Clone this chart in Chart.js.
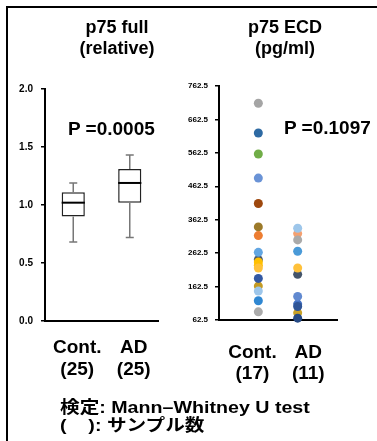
<!DOCTYPE html>
<html>
<head>
<meta charset="utf-8">
<script src="https://cdn.jsdelivr.net/npm/chart.js@4.4.1/dist/chart.umd.min.js"></script>
<style>
  html, body { margin: 0; padding: 0; background: #fff; }
  body { width: 377px; height: 441px; position: relative; overflow: hidden;
         font-family: "Liberation Sans", Arial, "Noto Sans CJK JP", sans-serif; font-weight: bold; color: #000; }
  #frame { position: absolute; left: 6px; top: 6px; width: 371px; height: 435px;
           border-top: 2px solid #000; border-left: 2px solid #000; box-sizing: border-box; }
  canvas { position: absolute; left: 0; top: 0; }
  .txt { position: absolute; white-space: nowrap; }
  .title { font-size: 18px; line-height: 21px; text-align: center; width: 160px; }
  .pval { font-size: 19px; line-height: 19px; }
  #note { left: 60px; top: 398px; font-size: 16.5px; line-height: 18px;
          transform: scaleX(1.19); transform-origin: 0 0;
          font-family: "Liberation Sans", Arial, "Noto Sans CJK JP", sans-serif; }
</style>
</head>
<body>
<div id="frame"></div>
<canvas id="boxChart" width="377" height="441"></canvas>
<canvas id="dotChart" width="377" height="441"></canvas>
<div class="txt title" style="left:37px; top:17px;">p75 full<br>(relative)</div>
<div class="txt title" style="left:205px; top:17px;">p75 ECD<br>(pg/ml)</div>
<div class="txt pval" style="left:68px; top:119px;">P =0.0005</div>
<div class="txt pval" style="left:284px; top:118px;">P =0.1097</div>
<div class="txt" id="note">検定: Mann–Whitney U test<br>(&nbsp;&nbsp;&nbsp;&nbsp;): サンプル数</div>
<script>
// p75 full (relative) - box plot
var fullGroups = ['Cont.', 'AD'];
var fullCounts = [25, 25];
var fullMin = [0.68, 0.72];
var fullQ1 = [0.90, 1.02];
var fullMedian = [1.02, 1.19];
var fullQ3 = [1.11, 1.31];
var fullMax = [1.19, 1.43];
var fullTicks = [0, 0.5, 1.0, 1.5, 2.0];

// p75 ECD (pg/ml) - dot plot
var ecdGroups = ['Cont.', 'AD'];
var ecdCounts = [17, 11];
var ecdCont = [243, 236, 226, 164, 711, 622, 559, 487, 411, 341, 315, 265, 218, 187, 149, 120, 87];
var ecdAD = [321, 199, 84, 110, 337, 302, 268, 218, 133, 103, 68];
var ecdTicks = [62.5, 162.5, 262.5, 362.5, 462.5, 562.5, 662.5, 762.5];

// dot colours (same order as the values above)
var contColors = ['#44546a', '#ffc000', '#ffc000', '#c49a22', '#a5a5a5', '#2e6aa3', '#70ad47', '#6a93d6',
                  '#9e480e', '#9c7a2a', '#ed7d31', '#62a6e2', '#ffc13a', '#3359a3', '#9dc6ea', '#2f87d2', '#ababab'];
var adColors = ['#f4a070', '#44546a', '#c9a227', '#4472c4', '#9dc6ea', '#aaaaaa', '#4a9ad8', '#ffc13a',
                '#6189d0', '#2f5597', '#264a85'];

Chart.defaults.font.family = '"Liberation Sans", Arial, sans-serif';
Chart.defaults.font.weight = 'bold';
Chart.defaults.color = '#000';

var whiskerPlugin = {
    id: 'whiskers',
    afterDatasetsDraw: function(chart) {
        var ctx = chart.ctx;
        var y = chart.scales.y;
        var meta = chart.getDatasetMeta(0);
        ctx.save();
        meta.data.forEach(function(bar, i) {
            var cx = bar.x, half = bar.width / 2;
            ctx.strokeStyle = '#777';
            ctx.lineWidth = 1.5;
            ctx.beginPath();
            ctx.moveTo(cx, y.getPixelForValue(fullQ3[i]));
            ctx.lineTo(cx, y.getPixelForValue(fullMax[i]));
            ctx.moveTo(cx - 4, y.getPixelForValue(fullMax[i]));
            ctx.lineTo(cx + 4, y.getPixelForValue(fullMax[i]));
            ctx.moveTo(cx, y.getPixelForValue(fullQ1[i]));
            ctx.lineTo(cx, y.getPixelForValue(fullMin[i]));
            ctx.moveTo(cx - 4, y.getPixelForValue(fullMin[i]));
            ctx.lineTo(cx + 4, y.getPixelForValue(fullMin[i]));
            ctx.stroke();
            ctx.strokeStyle = '#000';
            ctx.lineWidth = 2;
            ctx.beginPath();
            ctx.moveTo(cx - half, y.getPixelForValue(fullMedian[i]));
            ctx.lineTo(cx + half, y.getPixelForValue(fullMedian[i]));
            ctx.stroke();
        });
        ctx.restore();
    }
};

new Chart(document.getElementById('boxChart'), {
    type: 'bar',
    data: {
        labels: fullGroups.map(function(g, i) { return [g, '(' + fullCounts[i] + ')']; }),
        datasets: [{
            data: fullQ1.map(function(v, i) { return [v, fullQ3[i]]; }),
            backgroundColor: '#fff',
            borderColor: '#222',
            borderWidth: 1.5,
            borderSkipped: false,
            barPercentage: 0.41,
            categoryPercentage: 1
        }]
    },
    options: {
        responsive: false,
        animation: false,
        devicePixelRatio: 1,
        layout: { padding: { left: 0, right: 219, top: 89, bottom: 10 } },
        plugins: { legend: { display: false }, tooltip: { enabled: false } },
        scales: {
            x: {
                offset: true,
                grid: { display: false },
                border: { display: true, color: '#000', width: 2 },
                ticks: { font: { size: 19, weight: 'bold', lineHeight: 1.16 }, padding: 8, labelOffset: 4, maxRotation: 0 },
                afterFit: function(s) { s.height = 110; }
            },
            y: {
                min: 0, max: 2,
                afterBuildTicks: function(s) { s.ticks = fullTicks.map(function(v) { return { value: v }; }); },
                grid: { drawOnChartArea: false, drawTicks: true, tickLength: 4, color: '#000', lineWidth: 1.5 },
                border: { display: true, color: '#000', width: 2 },
                ticks: { font: { size: 10, weight: 'bold' }, padding: 8, callback: function(v) { return v.toFixed(1); } },
                afterFit: function(s) { s.width = 45; }
            }
        }
    },
    plugins: [whiskerPlugin]
});

new Chart(document.getElementById('dotChart'), {
    type: 'scatter',
    data: {
        datasets: [{
            data: ecdCont.map(function(v) { return { x: 1, y: v }; }),
            pointBackgroundColor: contColors,
            pointRadius: 4.5,
            pointBorderWidth: 0,
            clip: false
        }, {
            data: ecdAD.map(function(v) { return { x: 2, y: v }; }),
            pointBackgroundColor: adColors,
            pointRadius: 4.5,
            pointBorderWidth: 0,
            clip: false
        }]
    },
    options: {
        responsive: false,
        animation: false,
        devicePixelRatio: 1,
        layout: { padding: { left: 0, right: 40, top: 86, bottom: 11 } },
        plugins: { legend: { display: false }, tooltip: { enabled: false } },
        scales: {
            x: {
                type: 'linear', min: 0, max: 3,
                afterBuildTicks: function(s) { s.ticks = [{ value: 0.85 }, { value: 2.27 }]; },
                grid: { display: false },
                border: { display: true, color: '#000', width: 2 },
                ticks: {
                    font: { size: 19, weight: 'bold', lineHeight: 1.1 }, padding: 14, maxRotation: 0,
                    callback: function(v, i) { return [ecdGroups[i], '(' + ecdCounts[i] + ')']; }
                },
                afterFit: function(s) { s.height = 110; }
            },
            y: {
                min: 62.5, max: 762.5,
                afterBuildTicks: function(s) { s.ticks = ecdTicks.map(function(v) { return { value: v }; }); },
                grid: { drawOnChartArea: false, drawTicks: true, tickLength: 4, color: '#000', lineWidth: 1.5 },
                border: { display: true, color: '#000', width: 2 },
                ticks: { font: { size: 8, weight: 'bold' }, padding: 7, callback: function(v) { return v.toFixed(1); } },
                afterFit: function(s) { s.width = 219; }
            }
        }
    }
});
</script>
</body>
</html>
